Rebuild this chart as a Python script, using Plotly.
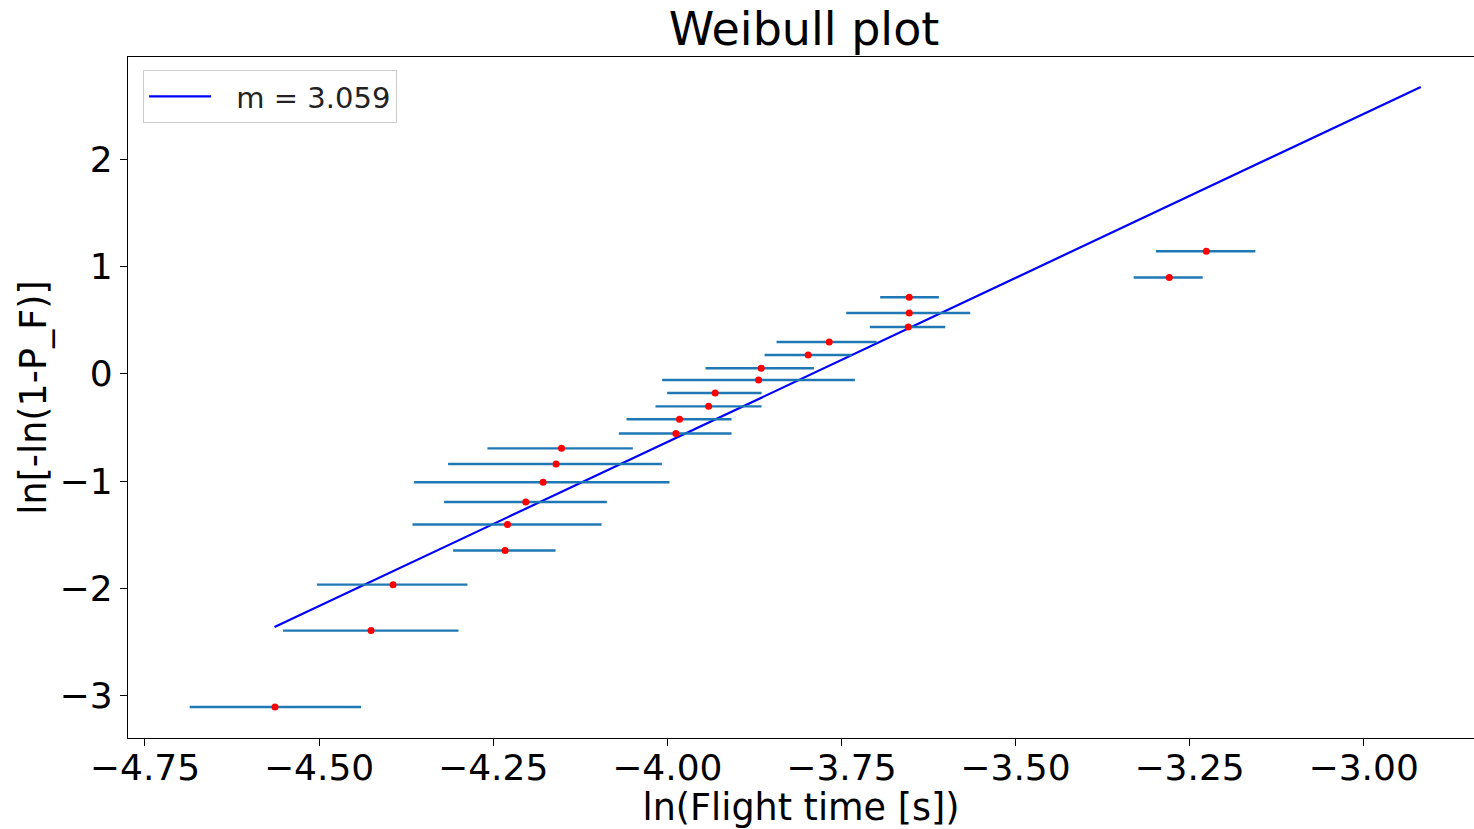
import plotly.graph_objects as go

# Data (ln of flight time vs. Weibull linearised probability)
ln_time = [-4.5633, -4.4254, -4.3938, -4.2329, -4.2295, -4.2032, -4.1783, -4.1597,
           -4.1519, -3.9877, -3.9824, -3.9407, -3.9313, -3.8689, -3.8652, -3.7977,
           -3.7675, -3.6540, -3.6526, -3.6526, -3.2792, -3.2260]
weibull_y = [-3.109, -2.396, -1.967, -1.649, -1.406, -1.196, -1.012, -0.841,
             -0.695, -0.557, -0.424, -0.303, -0.178, -0.057, 0.052, 0.176,
             0.298, 0.438, 0.568, 0.715, 0.899, 1.144]
ln_time_low = [-4.6858, -4.5518, -4.5029, -4.3076, -4.3659, -4.3205, -4.3636, -4.3148,
               -4.2582, -4.0696, -4.0585, -4.0169, -4.0002, -4.0074, -3.9451, -3.8603,
               -3.8431, -3.7091, -3.7431, -3.6943, -3.3303, -3.2983]
ln_time_high = [-4.4397, -4.2998, -4.2869, -4.1605, -4.0944, -4.0868, -3.9968, -4.0078,
                -4.0495, -3.9077, -3.9077, -3.8646, -3.8646, -3.7306, -3.7895, -3.7353,
                -3.6994, -3.6009, -3.5650, -3.6100, -3.2312, -3.1556]

fit_x = [-4.564, -2.918]
fit_y = [-2.363, 2.678]
fit_label = "m = 3.059"

x_tick_vals = [-4.75, -4.50, -4.25, -4.00, -3.75, -3.50, -3.25, -3.00]
x_tick_text = ["\u22124.75", "\u22124.50", "\u22124.25", "\u22124.00",
               "\u22123.75", "\u22123.50", "\u22123.25", "\u22123.00"]
y_tick_vals = [-3, -2, -1, 0, 1, 2]
y_tick_text = ["\u22123", "\u22122", "\u22121", "0", "1", "2"]

err_plus = [h - c for h, c in zip(ln_time_high, ln_time)]
err_minus = [c - l for c, l in zip(ln_time, ln_time_low)]

FONT = "DejaVu Sans"

fig = go.Figure()
fig.add_trace(go.Scatter(
    x=fit_x, y=fit_y, mode="lines", name="\u2002\u2009" + fit_label,
    line=dict(color="#0000ff", width=2.2),
))
fig.add_trace(go.Scatter(
    x=ln_time, y=weibull_y, mode="markers", showlegend=False,
    marker=dict(color="#ff0000", size=7),
    error_x=dict(type="data", symmetric=False, array=err_plus, arrayminus=err_minus,
                 color="#1f77b4", thickness=2.4, width=0),
))

fig.update_layout(
    width=1474, height=829,
    margin=dict(l=128, r=0, t=57, b=91),
    paper_bgcolor="white", plot_bgcolor="white",
    font=dict(family=FONT, color="black", size=36),
    title=dict(text="Weibull plot", x=0.5455, xanchor="center", y=0.965, yanchor="middle",
               font=dict(size=46, family=FONT, color="black")),
    showlegend=True,
    legend=dict(x=0.0112, y=0.981, xanchor="left", yanchor="top",
                bgcolor="rgba(255,255,255,0.8)", bordercolor="#cccccc", borderwidth=1,
                font=dict(size=29, family=FONT, color="#222222"), itemwidth=62),
    xaxis=dict(range=[-4.7744, -2.8416], tickvals=x_tick_vals, ticktext=x_tick_text,
               showgrid=False, zeroline=False, showline=True, linecolor="black",
               linewidth=1.3, mirror=True, ticks="outside", ticklen=7, tickwidth=1.2,
               tickcolor="black", tickfont=dict(size=36), ticklabelstandoff=-9,
               title=dict(text="ln(Flight time [s])", font=dict(size=36.5), standoff=4)),
    yaxis=dict(range=[-3.3985, 2.9576], tickvals=y_tick_vals, ticktext=y_tick_text,
               showgrid=False, zeroline=False, showline=True, linecolor="black",
               linewidth=1.3, ticks="outside", ticklen=7, tickwidth=1.2,
               tickcolor="black", tickfont=dict(size=36),
               title=dict(text="ln[-ln(1-P_F)]", font=dict(size=36.5), standoff=1)),
)

fig.write_html("out.html")
